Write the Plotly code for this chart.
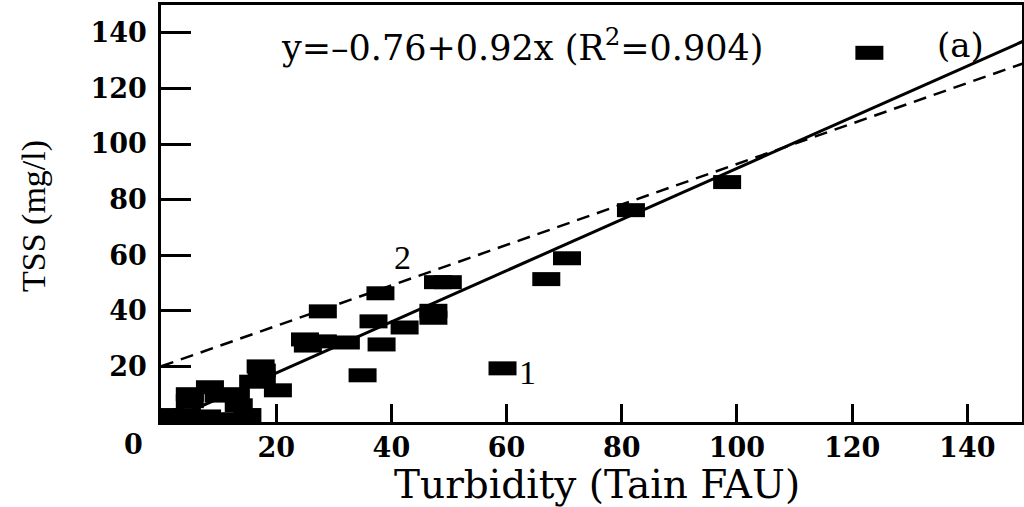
import plotly.graph_objects as go

# Data
turbidity = [1.5, 4.5, 8.0, 12.0, 15.0, 5.0, 5.0, 8.5, 10.0, 13.0, 13.5,
             16.0, 17.5, 17.5, 17.3, 20.3,
             25.0, 28.1, 25.5, 28.1, 32.1, 35.0, 36.9, 38.1, 38.3, 42.3,
             47.3, 47.3, 48.1, 49.8, 59.3, 66.9, 70.5, 81.6, 98.3, 123.0]
tss = [2.5, 2.5, 2.0, 1.0, 2.5, 7.5, 10.0, 12.5, 9.5, 10.0, 6.0,
       14.5, 16.0, 18.5, 20.0, 11.4,
       29.7, 29.0, 27.5, 39.8, 28.6, 16.8, 36.2, 46.3, 27.9, 34.0,
       40.0, 37.5, 50.3, 50.3, 19.3, 51.4, 58.9, 76.2, 86.3, 132.8]

fit_intercept = -0.76
fit_slope = 0.92
fit_x = [0.83, 150]
line2_intercept = 20.0
line2_slope = 0.728
line2_x = [0, 150]

xticks = [20, 40, 60, 80, 100, 120, 140]
yticks = [20, 40, 60, 80, 100, 120, 140]

fit_y = [fit_intercept + fit_slope * v for v in fit_x]
line2_y = [line2_intercept + line2_slope * v for v in line2_x]

fig = go.Figure()
fig.add_trace(go.Scatter(x=line2_x, y=line2_y, mode="lines",
                         line=dict(color="black", width=2.5, dash="13px,8px"),
                         showlegend=False, hoverinfo="skip"))
fig.add_trace(go.Scatter(x=fit_x, y=fit_y, mode="lines",
                         line=dict(color="black", width=3),
                         showlegend=False, hoverinfo="skip"))
fig.add_trace(go.Scatter(x=turbidity, y=tss, mode="markers",
                         marker=dict(symbol="line-ew", size=20,
                                     line=dict(color="black", width=14)),
                         showlegend=False))

tickfont = dict(family="DejaVu Serif", size=27, color="black", weight="bold")
fig.update_xaxes(range=[0, 149.5], tickvals=xticks, ticks="inside", ticklen=18,
                 tickwidth=2.5, tickcolor="black", showline=True, linecolor="black",
                 linewidth=2.5, mirror=True, showgrid=False, zeroline=False,
                 tickfont=tickfont)
fig.update_yaxes(range=[0, 150], tickvals=yticks, ticks="inside", ticklen=30,
                 tickwidth=2.5, tickcolor="black", showline=True, linecolor="black",
                 linewidth=2.5, mirror=True, showgrid=False, zeroline=False,
                 tickfont=tickfont, ticklabelstandoff=6)

ann = [
    dict(text="0", x=-0.0325, y=-0.055, xref="paper", yref="paper",
         font=tickfont),
    dict(text="Turbidity (Tain FAU)", x=0.506, y=-0.151, xref="paper", yref="paper",
         font=dict(family="DejaVu Serif", size=39, color="black")),
    dict(text="TSS (mg/l)", x=-0.1475, y=0.494, xref="paper", yref="paper",
         textangle=-90, font=dict(family="Liberation Serif", size=34, color="black")),
    dict(text="y=–0.76+0.92x (R<sup>2</sup>=0.904)", x=0.419, y=0.904,
         xref="paper", yref="paper",
         font=dict(family="DejaVu Serif", size=35, color="black")),
    dict(text="(a)", x=0.928, y=0.904, xref="paper", yref="paper",
         font=dict(family="DejaVu Serif", size=34, color="black")),
    dict(text="1", x=63.7, y=17.8, xref="x", yref="y",
         font=dict(family="Liberation Serif", size=34, color="black")),
    dict(text="2", x=42.0, y=59.2, xref="x", yref="y",
         font=dict(family="Liberation Serif", size=34, color="black")),
]
for a in ann:
    a["showarrow"] = False
    a["xanchor"] = "center"
    a["yanchor"] = "middle"
fig.update_layout(width=1024, height=507,
                  margin=dict(l=161, r=2, t=5, b=85, autoexpand=False),
                  plot_bgcolor="white", paper_bgcolor="white",
                  annotations=ann)

fig.write_html("out.html", config={"displayModeBar": False},
               post_script="document.body.style.margin='0px';document.body.style.overflow='hidden';")
